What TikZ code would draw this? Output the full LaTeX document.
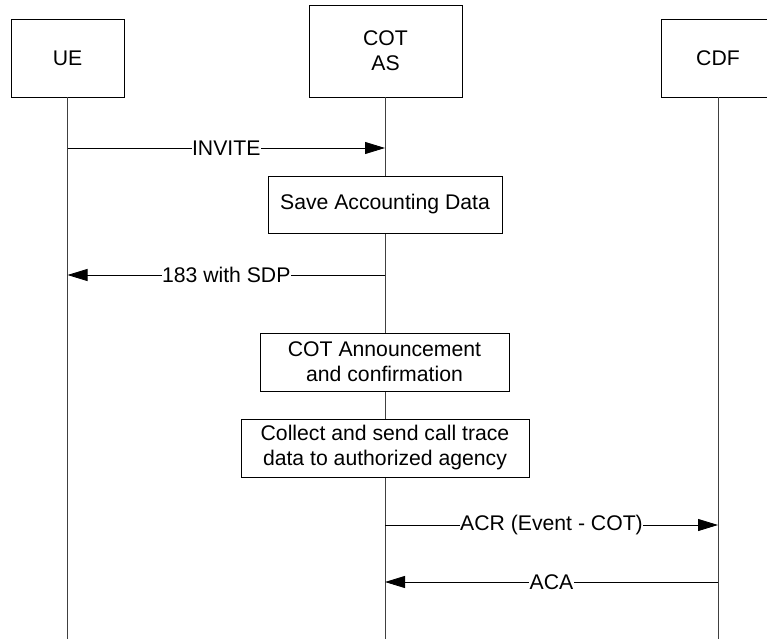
\documentclass[tikz,border=0pt]{standalone}
\usepackage{fontspec}
\setmainfont{Liberation Sans}
\usetikzlibrary{arrows.meta}
\begin{document}
\begin{tikzpicture}[x=1pt,y=-1pt,
  every node/.style={font=\fontsize{21.2}{25}\selectfont},
  entity/.style={draw=black,line width=0.9pt,fill=white,align=center,inner sep=0pt},
  actbox/.style={draw=black,line width=0.9pt,fill=white,align=center,inner sep=0pt,minimum height=58pt},
  life/.style={draw=black!75,line width=0.9pt},
  msg/.style={draw=black,line width=0.9pt,-{Triangle[length=20pt,width=12pt]}},
  lbl/.style={fill=white,inner sep=0.5pt}]
\useasboundingbox (0,0) rectangle (767,639);
% lifeline ends
\coordinate (ueEnd) at (67.5,639);
\coordinate (asEnd) at (385,639);
\coordinate (cdfEnd) at (718,639);
% entity boxes
\node[entity,minimum width=113pt,minimum height=78pt] (ue) at (67.5,58) {UE};
\node[entity,minimum width=153pt,minimum height=92pt] (as) at (385.5,51) {COT\\AS};
\node[entity,minimum width=113pt,minimum height=78pt] (cdf) at (718,58) {CDF};
% lifelines
\draw[life] (ue.south) -- (ueEnd);
\draw[life] (as.south -| asEnd) -- (asEnd);
\draw[life] (cdf.south) -- (cdfEnd);
% activity boxes
\node[actbox,minimum width=234pt,minimum height=57pt] (save) at (385,204.5) {Save Accounting Data};
\node[actbox,minimum width=249pt] (ann) at (384.5,362) {COT Announcement\\and confirmation};
\node[actbox,minimum width=288pt] (collect) at (385,448) {Collect and send call trace\\data to authorized agency};
% message coordinates
\coordinate (m1a) at (67.5,148);
\coordinate (m1b) at (385,148);
\coordinate (m2a) at (385,275);
\coordinate (m2b) at (67.5,275);
\coordinate (m3a) at (385,525);
\coordinate (m3b) at (718,525);
\coordinate (m4a) at (718,582);
\coordinate (m4b) at (385,582);
% messages
\draw[msg] (m1a) -- node[lbl] (l1) {INVITE} (m1b);
\draw[msg] (m2a) -- node[lbl] (l2) {183 with SDP} (m2b);
\draw[msg] (m3a) -- node[lbl] (l3) {ACR (Event - COT)} (m3b);
\draw[msg] (m4a) -- node[lbl] (l4) {ACA} (m4b);
\end{tikzpicture}
\end{document}
